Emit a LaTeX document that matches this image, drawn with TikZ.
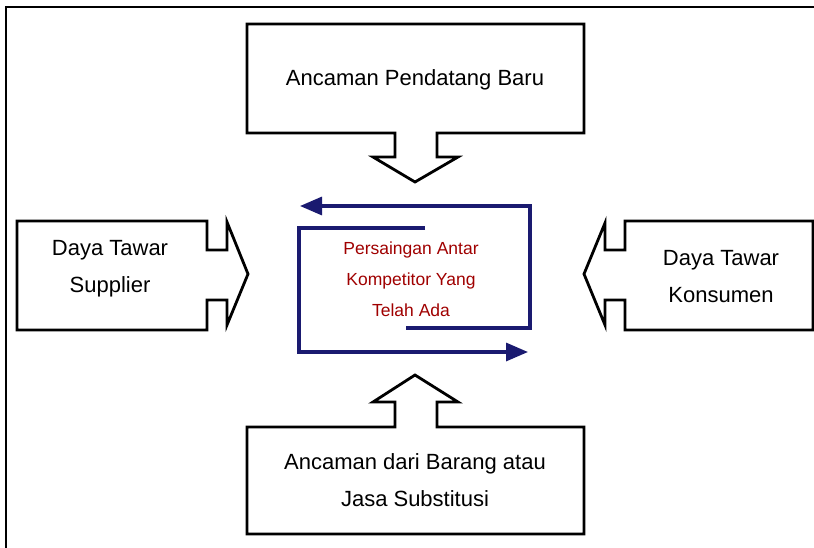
\documentclass[tikz,border=0pt]{standalone}
\usepackage{fontspec}
\setmainfont{Liberation Sans}
\usetikzlibrary{arrows.meta}
\definecolor{navyline}{HTML}{1A1A70}
\definecolor{darkred}{HTML}{A00000}
\tikzset{
  blockshape/.style={draw=black, line width=2.8pt, line join=miter, fill=white},
  flowline/.style={draw=navyline, line width=3.2pt, -{Triangle[length=22pt,width=18pt]}},
  boxtext/.style={align=center, font=\fontsize{22}{37}\selectfont, inner sep=0pt},
  centertext/.style={align=center, text=darkred, font=\fontsize{17.5}{31}\selectfont, inner sep=0pt}
}
\begin{document}
\begin{tikzpicture}[x=1pt,y=-1pt]
\useasboundingbox (0,0) rectangle (814,547);
\fill[white] (0,0) rectangle (814,547);
% outer frame
\draw[line width=1.8pt] (6,560) -- (6,7) -- (820,7);
% top box
\draw[blockshape] (247,24) -- (584,24) -- (584,133) -- (437,133) -- (437,157) -- (458,157) -- (415,182) -- (373,157) -- (395,157) -- (395,133) -- (247,133) -- cycle;
% bottom box
\draw[blockshape] (247,534) -- (584,534) -- (584,427) -- (437,427) -- (437,402) -- (458,402) -- (415,375) -- (373,402) -- (395,402) -- (395,427) -- (247,427) -- cycle;
% left box
\draw[blockshape] (17,221) -- (207,221) -- (207,250) -- (227,250) -- (227,222) -- (248,274) -- (227,325) -- (227,300) -- (207,300) -- (207,330) -- (17,330) -- cycle;
% right box
\draw[blockshape] (813,221) -- (625,221) -- (625,250) -- (605,250) -- (605,223) -- (584,274) -- (605,325) -- (605,300) -- (625,300) -- (625,330) -- (813,330) -- cycle;
% center loop
\coordinate (a1) at (406,328);
\coordinate (a2) at (530,328);
\coordinate (a3) at (530,206);
\coordinate (a4) at (300,206);
\coordinate (b1) at (425,228);
\coordinate (b2) at (299,228);
\coordinate (b3) at (299,352);
\coordinate (b4) at (528,352);
\draw[flowline] (a1) -- (a2) -- (a3) -- (a4);
\draw[flowline] (b1) -- (b2) -- (b3) -- (b4);
% texts
\node[boxtext] (top) at (415,80) {Ancaman Pendatang Baru};
\node[boxtext] (bottom) at (415,480) {Ancaman dari Barang atau\\Jasa Substitusi};
\node[boxtext] (left) at (110,269) {Daya Tawar\\Supplier};
\node[boxtext] (right) at (721,277) {Daya Tawar\\Konsumen};
\node[centertext] (center) at (411,279) {Persaingan Antar\\Kompetitor Yang\\Telah Ada};
\end{tikzpicture}
\end{document}
